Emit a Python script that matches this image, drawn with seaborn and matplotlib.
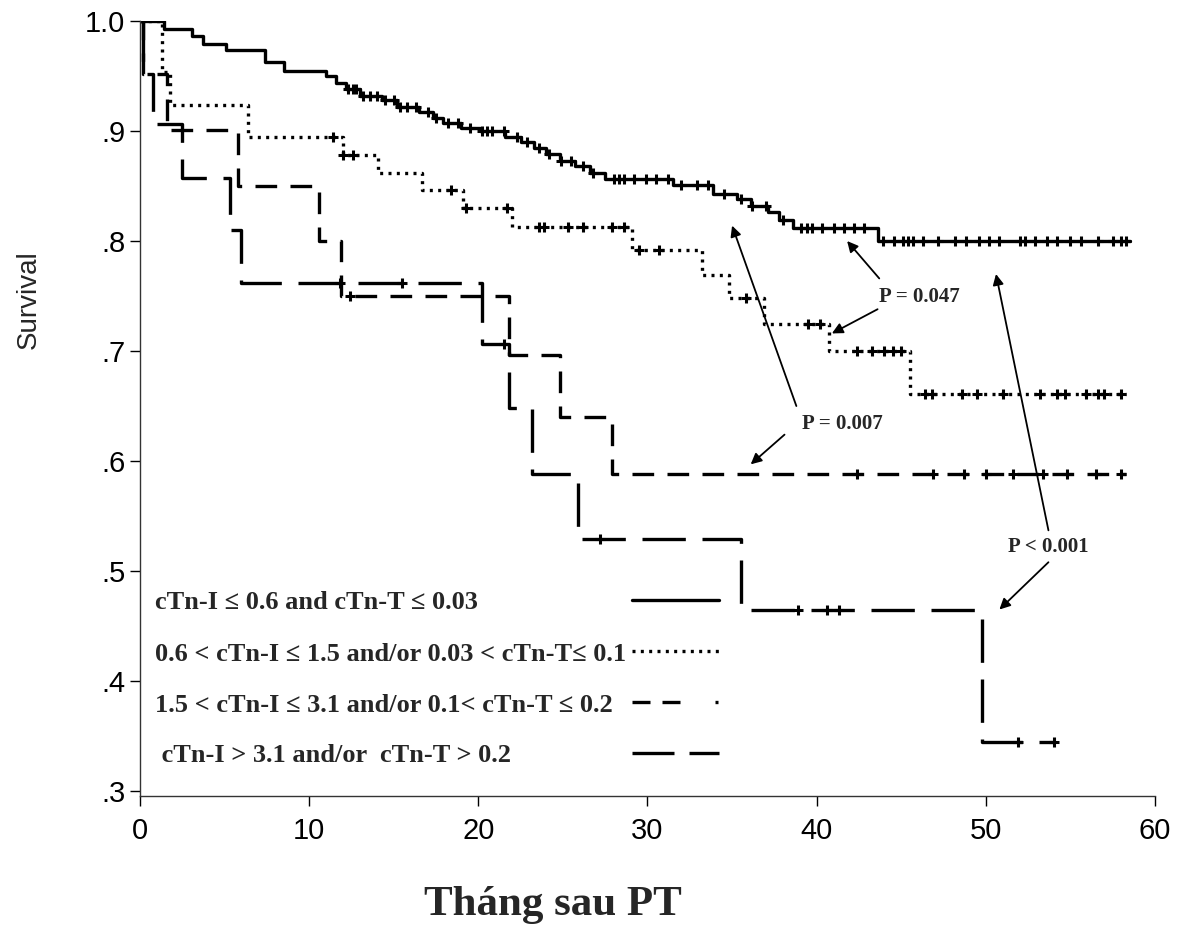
import numpy as np
import pandas as pd
import matplotlib
matplotlib.use("Agg")
import matplotlib.pyplot as plt
import seaborn as sns

# ---------------- data ----------------
# Group 1: cTn-I <= 0.6 and cTn-T <= 0.03 (solid)
g1_t = [0, 1.4, 3.1, 3.7, 5.1, 7.4, 8.5, 11.0, 11.6, 12.2, 13.0, 14.3, 15.2, 16.5,
        17.3, 17.9, 19.0, 20.1, 21.6, 22.5, 23.3, 24.0, 24.8, 25.7, 26.6, 27.5,
        31.5, 33.9, 35.3, 36.1, 37.1, 37.8, 38.6, 43.6, 58.5]
g1_s = [1.0, .993, .986, .979, .974, .963, .955, .950, .944, .938, .932, .928, .922, .917,
        .912, .907, .903, .900, .895, .890, .885, .879, .873, .868, .862, .856,
        .851, .843, .838, .832, .826, .819, .812, .800, .800]
g1_cens = [12.3, 12.6, 12.8, 13.2, 13.6, 14.0, 14.5, 15.0, 15.4, 15.8, 16.3, 17.0, 17.5,
           18.2, 18.8, 19.5, 20.2, 20.5, 20.8, 21.5, 22.3, 22.9, 23.6, 24.2, 24.9, 25.5,
           26.2, 26.8, 28.0, 28.3, 28.6, 29.2, 29.9, 30.5, 31.2, 32.0, 32.9, 33.6, 34.5,
           35.5, 36.2, 37.0, 38.0, 39.1, 39.4, 39.7, 40.3, 41.0, 41.6, 42.2, 42.8, 43.9,
           44.6, 45.1, 45.4, 45.7, 46.3, 47.2, 48.2, 48.8, 49.6, 50.2, 50.8, 52.0, 52.3,
           52.9, 53.6, 54.2, 55.0, 55.6, 56.6, 57.5, 58.0, 58.3]

# Group 2: 0.6 < cTn-I <= 1.5 and/or 0.03 < cTn-T <= 0.1 (dotted)
g2_t = [0, 1.3, 1.8, 6.4, 12.0, 14.1, 16.7, 19.1, 22.0, 29.1, 33.2, 34.8, 36.9, 40.7, 45.5, 58.3]
g2_s = [1.0, .954, .924, .895, .878, .862, .846, .830, .813, .792, .769, .748, .725, .700, .661, .661]
g2_cens = [11.4, 12.0, 12.6, 18.4, 19.3, 21.7, 23.6, 23.9, 25.3, 26.2, 27.9, 28.6, 29.5, 30.7,
           35.8, 39.5, 40.2, 42.4, 43.3, 44.0, 44.5, 45.0, 46.4, 46.8, 48.6, 49.5, 51.0,
           53.2, 54.2, 54.7, 55.9, 56.6, 57.0, 58.0]

# Group 3: 1.5 < cTn-I <= 3.1 and/or 0.1 < cTn-T <= 0.2 (medium dash)
g3_t = [0, 0.2, 1.6, 5.8, 10.6, 11.9, 21.8, 24.8, 27.9, 58.3]
g3_s = [1.0, .952, .901, .850, .800, .750, .696, .640, .588, .588]
g3_cens = [12.4, 42.4, 46.9, 48.7, 50.0, 51.6, 53.4, 54.8, 56.5, 58.0]

# Group 4: cTn-I > 3.1 and/or cTn-T > 0.2 (long dash)
g4_t = [0, 0.2, 0.8, 2.5, 5.3, 6.0, 20.2, 21.8, 23.2, 25.9, 35.5, 49.8, 54.0]
g4_s = [1.0, .952, .906, .857, .810, .762, .706, .648, .588, .529, .465, .345, .345]
g4_cens = [11.8, 15.5, 21.5, 27.2, 38.9, 40.6, 41.3, 51.9, 54.0]

legend_labels = [
    "cTn-I \u2264 0.6 and cTn-T \u2264 0.03",
    "0.6 < cTn-I \u2264 1.5 and/or 0.03 < cTn-T\u2264 0.1",
    "1.5 < cTn-I \u2264 3.1 and/or 0.1< cTn-T \u2264 0.2",
    " cTn-I > 3.1 and/or  cTn-T > 0.2",
]
x_ticks = [0, 10, 20, 30, 40, 50, 60]
y_ticks = [1.0, 0.9, 0.8, 0.7, 0.6, 0.5, 0.4, 0.3]
y_tick_labels = ["1.0", ".9", ".8", ".7", ".6", ".5", ".4", ".3"]

p_labels = ["P = 0.047", "P = 0.007", "P < 0.001"]

# ---------------- plotting ----------------
sns.set_theme(style="ticks")
plt.rcParams["font.family"] = ["Liberation Sans", "DejaVu Sans"]
serif = ["Liberation Serif", "DejaVu Serif"]

fig = plt.figure(figsize=(11.78, 9.43), dpi=100)
ax = fig.add_axes([0.1188, 0.1559, 0.8617, 0.8218])

LW = 2.4
styles = [
    "-",
    (0, (0.9, 1.6)),
    (0, (6.5, 4.0)),
    (0, (13.0, 5.0)),
]
groups = [(g1_t, g1_s, g1_cens), (g2_t, g2_s, g2_cens),
          (g3_t, g3_s, g3_cens), (g4_t, g4_s, g4_cens)]

for (t, s, c), ls in zip(groups, styles):
    df = pd.DataFrame({"t": t, "s": s})
    sns.lineplot(data=df, x="t", y="s", drawstyle="steps-post", color="black",
                 linestyle=ls, linewidth=LW, estimator=None, sort=False, ax=ax,
                 dash_capstyle="butt")
    tt = np.asarray(t)
    ss = np.asarray(s)
    cy = [ss[np.searchsorted(tt, ci, side="right") - 1] for ci in c]
    cdf = pd.DataFrame({"t": c, "s": cy})
    sns.scatterplot(data=cdf, x="t", y="s", marker="+", s=55, color="black",
                    linewidth=2.2, ax=ax, zorder=4)

ax.set_xlim(0, 60)
ax.set_ylim(0.2955, 1.0)
ax.set_xticks(x_ticks)
ax.set_xticklabels([str(v) for v in x_ticks])
ax.set_yticks(y_ticks)
ax.set_yticklabels(y_tick_labels)
ax.tick_params(axis="both", direction="out", length=7, width=1.0, labelsize=21,
               colors="black")
ax.tick_params(axis="x", pad=8)
for side in ["top", "right"]:
    ax.spines[side].set_visible(False)
for side in ["left", "bottom"]:
    ax.spines[side].set_linewidth(1.0)
    ax.spines[side].set_color("#333333")
ax.set_xlabel("")
ax.set_ylabel("Survival", fontsize=20)
ax.yaxis.set_label_coords(-0.097, 0.64)

fig.text(553 / 1178, 1 - 905 / 943, "Tháng sau PT", ha="center", va="center",
         fontsize=31, fontweight="bold", family=serif)

# legend (drawn inside the plot area as in the reference)
leg_y = [0.471, 0.424, 0.378, 0.332]
leg_styles = ["-", (0, (0.9, 1.6)), (0, (5.4, 3.6, 5.4, 10.5, 0.9, 12.0)),
              (0, (12.6, 4.5))]
for lab, ly, ls in zip(legend_labels, leg_y, leg_styles):
    ax.text(0.9, ly, lab, ha="left", va="center", fontsize=19, fontweight="bold",
            family=serif)
    ax.plot([29.1, 34.2], [ly + 0.003, ly + 0.003], color="black", linewidth=LW,
            linestyle=ls, dash_capstyle="butt")

# P-value annotations with arrows
ax.text(46.1, 0.749, p_labels[0], ha="center", va="center", fontsize=15,
        fontweight="bold", family=serif)
ax.text(41.5, 0.634, p_labels[1], ha="center", va="center", fontsize=15,
        fontweight="bold", family=serif)
ax.text(53.7, 0.522, p_labels[2], ha="center", va="center", fontsize=15,
        fontweight="bold", family=serif)

arrows = [
    ((43.7, 0.766), (41.8, 0.800)),
    ((43.6, 0.738), (40.9, 0.716)),
    ((38.8, 0.650), (35.0, 0.814)),
    ((38.1, 0.624), (36.1, 0.597)),
    ((53.7, 0.537), (50.6, 0.770)),
    ((53.7, 0.508), (50.8, 0.465)),
]
for tail, head in arrows:
    ax.annotate("", xy=head, xytext=tail,
                arrowprops=dict(arrowstyle="-|>", color="black", lw=1.3,
                                mutation_scale=16, shrinkA=0, shrinkB=0))

fig.savefig("out.png", dpi=100, facecolor="white")
